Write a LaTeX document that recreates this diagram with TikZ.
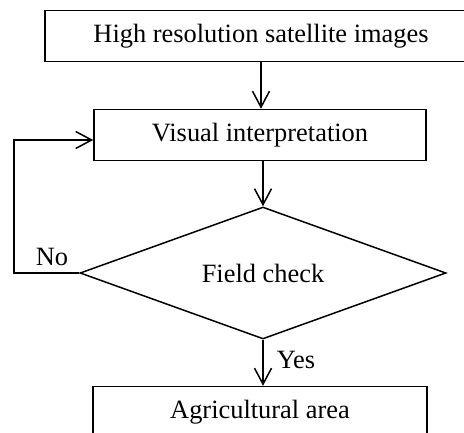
\documentclass[tikz,border=0pt]{standalone}
\usepackage{fontspec}
\setmainfont{Liberation Serif}
\usetikzlibrary{%
  arrows.meta,%
  shapes.geometric,% diamond
  positioning%
}

\begin{document}
\begin{tikzpicture}[
  x=1pt, y=1pt,
  font=\fontsize{26.4}{30}\selectfont,
  >={Straight Barb[length=16pt,width=17pt]},
  line width=1.5pt,
  box/.style={draw, rectangle, inner sep=0pt, minimum height=51pt},
  decision/.style={draw, diamond, inner sep=0pt, aspect=2.78,
    minimum width=366pt, minimum height=132pt}
]

\useasboundingbox (0,0) rectangle (464,432);
\clip (0,0) rectangle (464,432);

\node[box, minimum width=432pt] (sat) at (261,396) {High resolution satellite images};
\node[box, minimum width=332pt] (interp) at (260,297) {Visual interpretation};
\node[decision] (check) at (263,159) {Field check};
\node[box, minimum width=334pt] (agri) at (260,20) {Agricultural area};

\draw [->] (sat.south -| 261,0) -- (interp.north -| 261,0);
\draw [->] (interp.south -| check.north) -- (check.north);
\draw [->] (check.south) -- (agri.north -| check.south);

% loop back when the check fails
\coordinate (turn) at (14,292);
\draw [->] (check.west) -| (turn) -- (interp.west |- turn);

\node (lblno) at (52,175) {No};
\node[anchor=west, inner sep=0pt] (lblyes) at (276,72) {Yes};

\end{tikzpicture}
\end{document}
